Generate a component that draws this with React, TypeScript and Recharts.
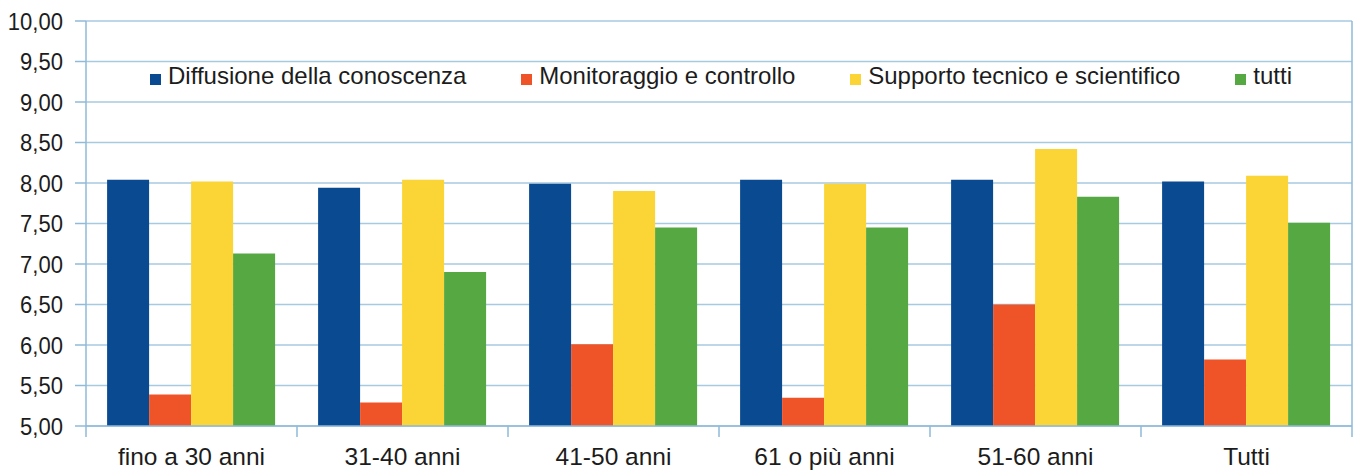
import { BarChart, Bar, XAxis, YAxis, CartesianGrid } from 'recharts';

// age groups on the x axis
const categories = ['fino a 30 anni', '31-40 anni', '41-50 anni', '61 o più anni', '51-60 anni', 'Tutti'];

// average scores per group
const diffusione = [8.04, 7.94, 7.99, 8.04, 8.04, 8.02];
const monitoraggio = [5.39, 5.29, 6.01, 5.35, 6.5, 5.82];
const supporto = [8.02, 8.04, 7.9, 7.99, 8.42, 8.09];
const tutti = [7.13, 6.9, 7.45, 7.45, 7.83, 7.51];

const seriesNames = ['Diffusione della conoscenza', 'Monitoraggio e controllo', 'Supporto tecnico e scientifico', 'tutti'];
const seriesKeys = ['diffusione', 'monitoraggio', 'supporto', 'tutti'];
const colors = ['#0a4a90', '#ee5428', '#fbd435', '#56a843'];

const yTicks = [5, 5.5, 6, 6.5, 7, 7.5, 8, 8.5, 9, 9.5, 10];

const data = categories.map((c, i) => ({
  name: c,
  diffusione: diffusione[i],
  monitoraggio: monitoraggio[i],
  supporto: supporto[i],
  tutti: tutti[i],
}));

const FONT = '"Liberation Sans", Arial, sans-serif';
const AXIS_COLOR = '#8fbad8';
const GRID_COLOR = '#a8cae0';
const TEXT_COLOR = '#1c1c1c';

const TICK_SIZE = 11;
const TICK_MARGIN = 11;

const fmt = (v: number) => v.toFixed(2).replace('.', ',');

// category labels centred, tick marks drawn on the band boundaries
const CategoryTick = (props: any) => {
  const { x, y, payload, index } = props;
  const half = payload && payload.offset ? payload.offset : 0;
  const axisY = y - TICK_SIZE - TICK_MARGIN;
  return (
    <g>
      <line x1={x - half} x2={x - half} y1={axisY} y2={axisY + TICK_SIZE} stroke={AXIS_COLOR} strokeWidth={1.5} />
      {index === categories.length - 1 && (
        <line x1={x + half} x2={x + half} y1={axisY} y2={axisY + TICK_SIZE} stroke={AXIS_COLOR} strokeWidth={1.5} />
      )}
      <text x={x} y={y} dy="0.71em" textAnchor="middle" fill={TEXT_COLOR} fontSize={24.5} fontFamily={FONT}>
        {payload.value}
      </text>
    </g>
  );
};

// value labels are a bit condensed in the original
const ValueTick = (props: any) => {
  const { x, y, payload } = props;
  return (
    <g transform={`translate(${x},${y}) scale(0.9,1)`}>
      <text x={0} y={0} dy="0.355em" textAnchor="end" fill={TEXT_COLOR} fontSize={24.5} fontFamily={FONT}>
        {fmt(payload.value)}
      </text>
    </g>
  );
};

// legend sits inside the plot area, between the 9,50 and 9,00 lines
const ChartLegend = () => (
  <div
    style={{
      position: 'absolute',
      top: 62,
      left: 150,
      width: 1142,
      display: 'flex',
      justifyContent: 'space-between',
      alignItems: 'center',
      fontFamily: FONT,
      fontSize: 24,
      lineHeight: '28px',
      color: TEXT_COLOR,
      whiteSpace: 'nowrap',
    }}
  >
    {seriesNames.map((n, i) => (
      <div key={n} style={{ display: 'flex', alignItems: 'center' }}>
        <span style={{ display: 'inline-block', width: 11, height: 11, background: colors[i], marginRight: 7, marginTop: 6 }} />
        <span>{n}</span>
      </div>
    ))}
  </div>
);

export default function App() {
  return (
    <div style={{ position: 'absolute', left: 0, top: 0, width: 1354, height: 473, background: '#fff' }}>
      <BarChart
        width={1354}
        height={473}
        data={data}
        margin={{ top: 21, right: 0, bottom: 0, left: 0 }}
        barCategoryGap="10%"
        barGap={0}
      >
        <CartesianGrid vertical={false} stroke={GRID_COLOR} strokeWidth={1.5} yAxisId="left" />
        <XAxis
          dataKey="name"
          axisLine={{ stroke: AXIS_COLOR, strokeWidth: 1.5 }}
          tickLine={false}
          tickSize={TICK_SIZE}
          tickMargin={TICK_MARGIN}
          tick={<CategoryTick />}
          interval={0}
          height={47}
        />
        <YAxis
          yAxisId="left"
          domain={[5, 10]}
          ticks={yTicks}
          allowDataOverflow
          width={86}
          tickSize={TICK_SIZE}
          tickMargin={12}
          axisLine={{ stroke: AXIS_COLOR, strokeWidth: 1.5 }}
          tickLine={{ stroke: AXIS_COLOR, strokeWidth: 1.5 }}
          tick={<ValueTick />}
        />
        <YAxis
          yAxisId="right"
          orientation="right"
          domain={[5, 10]}
          width={2}
          tick={false}
          tickLine={false}
          axisLine={{ stroke: AXIS_COLOR, strokeWidth: 1.5 }}
        />
        {seriesKeys.map((k, i) => (
          <Bar key={k} yAxisId="left" dataKey={k} name={seriesNames[i]} fill={colors[i]} isAnimationActive={false} />
        ))}
      </BarChart>
      <ChartLegend />
    </div>
  );
}
